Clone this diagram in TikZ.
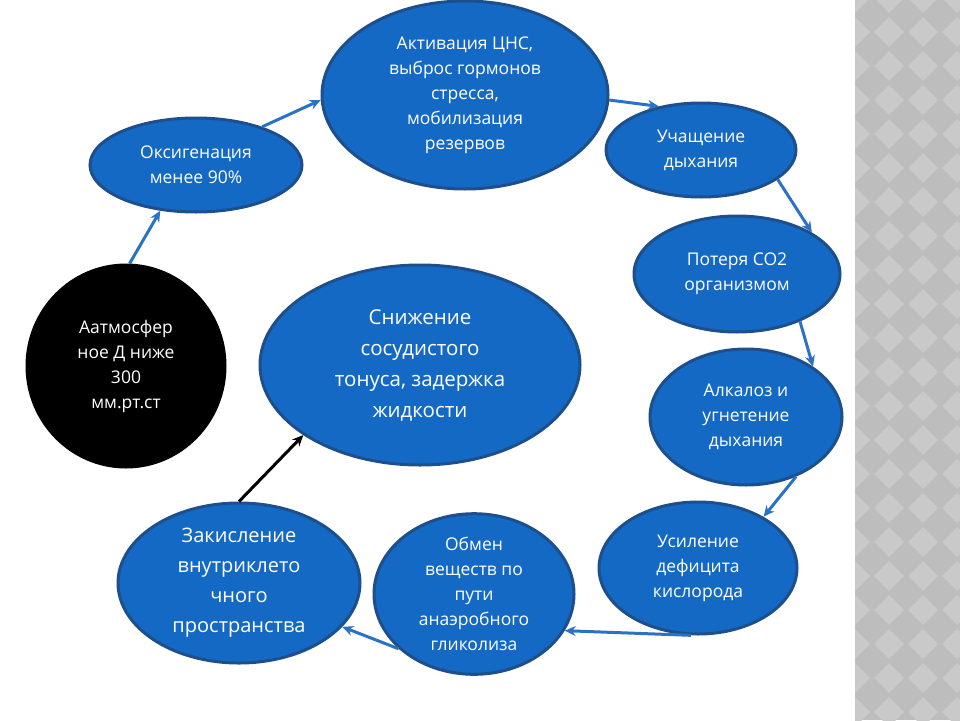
\documentclass[tikz,border=0pt]{standalone}
\usepackage{fontspec}
\setmainfont{Open Sans}
\usetikzlibrary{shapes.geometric,arrows.meta}
\definecolor{cellblue}{HTML}{1469C4}
\definecolor{rimblue}{HTML}{1D4F8C}
\definecolor{arrowblue}{HTML}{2C72C4}
\definecolor{stripgray}{HTML}{BDBDBD}
\definecolor{diagray}{HTML}{C9C9C9}
\begin{document}
\begin{tikzpicture}
			[
				x = 1pt, y = -1pt,
				cell/.style   = {ellipse, draw = rimblue, line width = 3pt, fill = cellblue,
				                 text = white, align = center, inner sep = 0pt,
				                 font = \fontsize{17.5}{25}\selectfont},
				flow/.style   = {draw = arrowblue, line width = 3pt, -{Stealth[length=11pt,width=10pt]}},
				back/.style   = {draw = black, line width = 3pt, -{Stealth[length=11pt,width=10pt]}}
			]
			\useasboundingbox (0,0) rectangle (960,720);
			% grey strip on the right
			\fill [stripgray] (855,0) rectangle (960,720);
			\begin{scope}
				\clip (855,0) rectangle (960,720);
				\foreach \i in {0,...,21} {
					\foreach \j in {0,...,3} {
						\fill [diagray] (855+\j*34,\i*34-17) -- ++(15,15) -- ++(-15,15) -- ++(-15,-15) -- cycle;
					}
				}
			\end{scope}
			% the cycle
			\node [cell, minimum width=198pt, minimum height=202pt, fill=black, draw=black] (atm) at (126,366) {Аатмосфер\\ное Д ниже\\300\\мм.рт.ст};
			\node [cell, minimum width=212pt, minimum height=94pt]  (oxy) at (196,165) {Оксигенация\\менее 90\%};
			\node [cell, minimum width=286pt, minimum height=188pt] (cns) at (465,95)  {Активация ЦНС,\\выброс гормонов\\стресса,\\мобилизация\\резервов};
			\node [cell, minimum width=190pt, minimum height=94pt]  (breath) at (701,150) {Учащение\\дыхания};
			\node [cell, minimum width=206pt, minimum height=116pt] (co) at (737,274) {Потеря СО2\\организмом};
			\node [cell, minimum width=192pt, minimum height=136pt] (alk) at (746,417) {Алкалоз и\\угнетение\\дыхания};
			\node [cell, minimum width=198pt, minimum height=132pt] (def) at (698,568) {Усиление\\дефицита\\кислорода};
			\node [cell, minimum width=200pt, minimum height=144pt] (glyc) at (474,594) {Обмен\\веществ по\\пути\\анаэробного\\гликолиза};
			\node [cell, minimum width=242pt, minimum height=160pt, font=\fontsize{20}{30}\selectfont] (acid) at (239,583) {Закисление\\внутриклето\\чного\\пространства};
			\node [cell, minimum width=320pt, minimum height=200pt, font=\fontsize{20.5}{31}\selectfont] (tone) at (420,365) {Снижение\\сосудистого\\тонуса, задержка\\жидкости};
			% connectors
			\draw [flow] (atm.88)     -- (oxy.232);
			\draw [flow] (oxy.30)     -- (cns.182);
			\draw [flow] (cns.358)    -- (breath.134);
			\draw [flow] (breath.339) -- (co.29);
			\draw [flow] (co.323)     -- (alk.37);
			\draw [flow] (alk.310)    -- (def.38);
			\draw [flow] (def.264)    -- (glyc.338);
			\draw [flow] (glyc.216)   -- (acid.337);
			\draw [back] (acid.90)    -- (tone.211);
		\end{tikzpicture}
\end{document}
